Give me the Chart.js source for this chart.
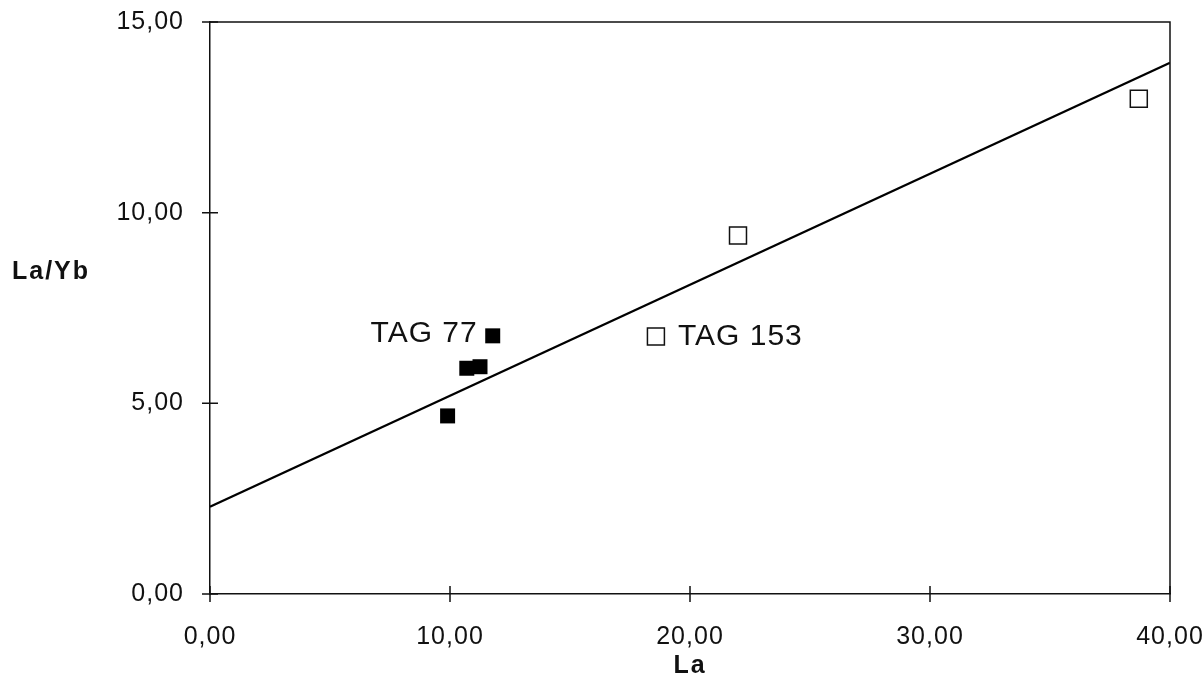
<!DOCTYPE html>
<html>
<head>
<meta charset="utf-8">
<script src="https://cdn.jsdelivr.net/npm/chart.js@4/dist/chart.umd.min.js"></script>
<style>
  html, body { margin: 0; padding: 0; background: #fff; }
  #wrap { width: 1203px; height: 686px; }
</style>
</head>
<body>
<div id="wrap"><canvas id="chart" width="1203" height="686"></canvas></div>
<script>
// Données
const filledX = [9.90, 10.70, 11.25, 11.78];
const filledY = [4.67, 5.92, 5.96, 6.77];
const openX = [22.00, 18.58, 38.70];
const openY = [9.40, 6.75, 12.99];
const trendX = [0, 40];
const trendY = [2.29, 13.93];
const xTicks = [0, 10, 20, 30, 40];
const yTicks = [0, 5, 10, 15];
const pointLabels = [
  { text: 'TAG 77', x: 11.78, y: 6.77, side: 'left' },
  { text: 'TAG 153', x: 18.58, y: 6.75, side: 'right' }
];

const toPts = (xs, ys) => xs.map((x, i) => ({ x: x, y: ys[i] }));
const fmt = v => v.toFixed(2).replace('.', ',');
const FONT = "'Liberation Sans', Arial, sans-serif";

// pas de marge automatique pour les libellés qui débordent
const noPad = s => {
  s.paddingLeft = 0; s.paddingRight = 0;
  s.paddingTop = 0; s.paddingBottom = 0;
};

// cadre + petits traits de graduation qui traversent les axes + textes
const decorPlugin = {
  id: 'decor',
  beforeDraw(chart) {
    chart.ctx.letterSpacing = '1px'; // libellés un peu espacés comme l'original
  },
  afterDraw(chart) {
    const ctx = chart.ctx;
    const a = chart.chartArea;
    const xs = chart.scales.x;
    const ys = chart.scales.y;
    ctx.save();
    ctx.strokeStyle = '#111';
    ctx.lineWidth = 1.5;
    ctx.beginPath();
    ctx.moveTo(a.left, a.top);
    ctx.lineTo(a.right, a.top);
    ctx.lineTo(a.right, a.bottom);
    ctx.stroke();

    ctx.beginPath();
    yTicks.forEach(v => {
      const py = ys.getPixelForValue(v);
      ctx.moveTo(a.left - 8, py);
      ctx.lineTo(a.left + 8, py);
    });
    xTicks.forEach(v => {
      const px = xs.getPixelForValue(v);
      ctx.moveTo(px, a.bottom - 8);
      ctx.lineTo(px, a.bottom + 8);
    });
    ctx.stroke();

    // étiquettes des échantillons
    ctx.fillStyle = '#111';
    ctx.font = '30px ' + FONT;
    ctx.letterSpacing = '1px';
    ctx.textBaseline = 'middle';
    pointLabels.forEach(l => {
      const px = xs.getPixelForValue(l.x);
      const py = ys.getPixelForValue(l.y);
      if (l.side === 'left') {
        ctx.textAlign = 'right';
        ctx.fillText(l.text, px - 15, py - 2);
      } else {
        ctx.textAlign = 'left';
        ctx.fillText(l.text, px + 22, py);
      }
    });

    // titres des axes
    ctx.font = 'bold 25px ' + FONT;
    ctx.letterSpacing = '2px';
    ctx.textAlign = 'center';
    ctx.fillText('La', (a.left + a.right) / 2, 666);
    ctx.textAlign = 'left';
    ctx.fillText('La/Yb', 12, 272);
    ctx.restore();
  }
};

const ctx = document.getElementById('chart').getContext('2d');
new Chart(ctx, {
  type: 'scatter',
  data: {
    datasets: [
      {
        type: 'line',
        data: toPts(trendX, trendY),
        borderColor: '#000',
        borderWidth: 2.2,
        pointRadius: 0,
        fill: false,
        order: 3
      },
      {
        data: toPts(filledX, filledY),
        pointStyle: 'rect',
        pointRadius: 10.6,
        backgroundColor: '#000',
        borderColor: '#000',
        borderWidth: 0,
        order: 1
      },
      {
        data: toPts(openX, openY),
        pointStyle: 'rect',
        pointRadius: 12,
        backgroundColor: '#fff',
        borderColor: '#111',
        borderWidth: 1.5,
        order: 2
      }
    ]
  },
  plugins: [decorPlugin],
  options: {
    responsive: false,
    animation: false,
    layout: { padding: { left: 0, right: 33, top: 22, bottom: 0 } },
    plugins: { legend: { display: false }, tooltip: { enabled: false } },
    scales: {
      x: {
        type: 'linear',
        min: 0,
        max: 40,
        afterBuildTicks: s => { s.ticks = xTicks.map(v => ({ value: v })); },
        afterFit: s => { s.height = 92; noPad(s); },
        grid: { display: false, drawTicks: false },
        border: { display: true, color: '#111', width: 1.5 },
        ticks: {
          padding: 28,
          color: '#111',
          font: { family: FONT, size: 25 },
          callback: v => fmt(v)
        }
      },
      y: {
        type: 'linear',
        min: 0,
        max: 15,
        afterBuildTicks: s => { s.ticks = yTicks.map(v => ({ value: v })); },
        afterFit: s => { s.width = 210; noPad(s); },
        grid: { display: false, drawTicks: false },
        border: { display: true, color: '#111', width: 1.5 },
        ticks: {
          padding: 26,
          color: '#111',
          font: { family: FONT, size: 25 },
          callback: v => fmt(v)
        }
      }
    }
  }
});
</script>
</body>
</html>
